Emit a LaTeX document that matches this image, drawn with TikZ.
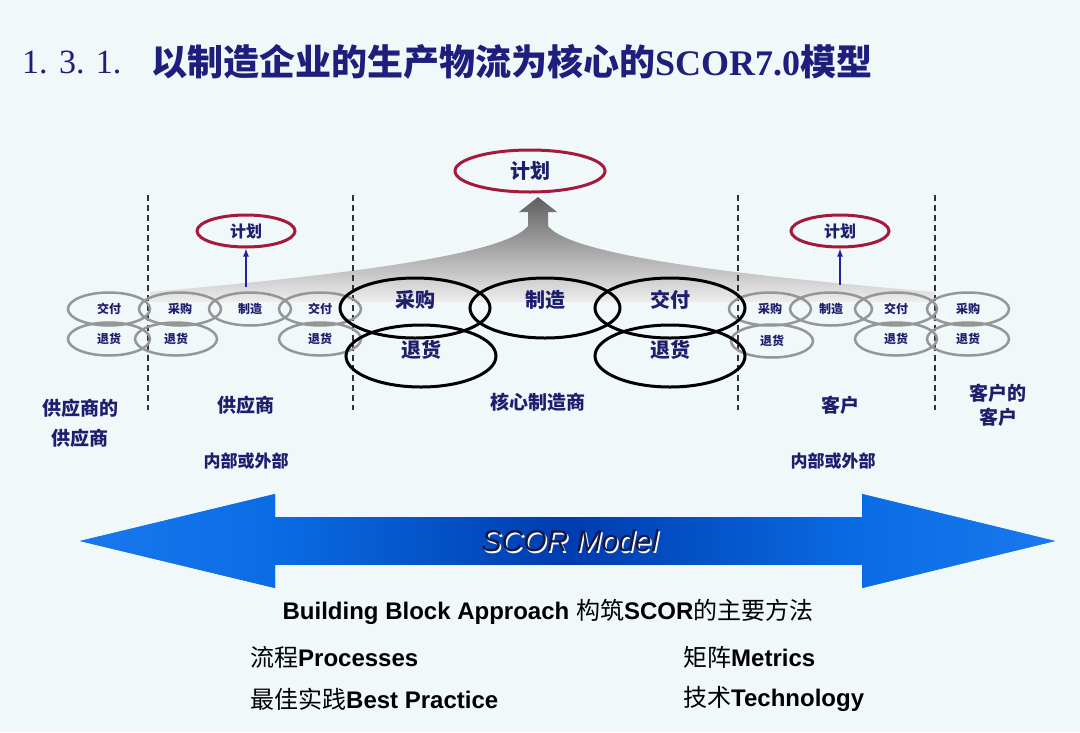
\documentclass[tikz,border=0pt]{standalone}
\usepackage{fontspec}
\setmainfont{Liberation Sans}
\newfontfamily\cjk{Noto Sans CJK SC}
\newfontfamily\serifTT{Liberation Serif}
\usetikzlibrary{shapes.geometric,arrows.meta}
\definecolor{bgc}{RGB}{241,248,249}
\definecolor{navy}{RGB}{30,30,110}
\definecolor{titlec}{RGB}{30,30,125}
\definecolor{plancol}{RGB}{165,25,60}
\definecolor{ellgray}{RGB}{150,150,150}
\definecolor{arrblue}{RGB}{10,108,228}
\definecolor{arrdark}{RGB}{0,60,175}
\definecolor{arrlight}{RGB}{25,120,238}
\definecolor{arrowline}{RGB}{35,35,160}
\definecolor{fantop}{RGB}{95,95,95}
\definecolor{fanbot}{RGB}{238,238,238}
\definecolor{scortext}{RGB}{20,25,70}
\begin{document}
\begin{tikzpicture}[x=1pt,y=-1pt,
  smallell/.style={ellipse, draw=ellgray, line width=2.5pt, minimum width=82pt, minimum height=33pt, inner sep=0pt, text=navy, font=\cjk\bfseries\fontsize{12}{14}\selectfont},
  bigell/.style={ellipse, draw=black, line width=3pt, minimum width=150pt, minimum height=60pt, inner sep=0pt},
  bigtxt/.style={text=navy, inner sep=0pt, font=\cjk\bfseries\fontsize{20}{24}\selectfont},
  planell/.style={ellipse, draw=plancol, line width=3pt, inner sep=0pt, text=navy},
  stagelbl/.style={text=navy, align=center, inner sep=0pt, font=\cjk\bfseries\fontsize{19}{30}\selectfont},
  sublbl/.style={text=navy, inner sep=0pt, font=\cjk\bfseries\fontsize{17}{20}\selectfont},
  divider/.style={draw=black!80, line width=1.2pt, dash pattern=on 6pt off 4pt},
  planarrow/.style={draw=arrowline, line width=1.3pt, -{Latex[length=8pt,width=6pt]}},
  bottxt/.style={anchor=west, inner sep=0pt, text=black, font=\bfseries\fontsize{24}{28}\selectfont}
]
% background
\fill[bgc] (0,0) rectangle (1080,732);
\useasboundingbox (0,0) rectangle (1080,732);

% title
\node[anchor=west, inner sep=0pt, text=titlec, font=\serifTT\fontsize{34}{40}\selectfont] (t1) at (22,62) {1. 3. 1.};
\node[anchor=west, inner sep=0pt, text=titlec, font=\fontsize{36}{40}\selectfont] (t2) at (151,62)
  {{\cjk\bfseries 以制造企业的生产物流为核心的}{\serifTT\bfseries SCOR7.0}{\cjk\bfseries 模型}};

% gray fan arrow towards the main plan
\shade[top color=fantop, bottom color=fanbot]
  (150,292) .. controls (330,276) and (505,256) .. (528,226)
  -- (528,212) -- (519,212) -- (538,197) -- (557,212) -- (548,212) -- (548,226)
  .. controls (571,256) and (746,276) .. (935,292)
  -- (935,302) -- (150,302) -- cycle;

% dividers
\draw[divider] (148,195) -- (148,410);
\draw[divider] (353,195) -- (353,410);
\draw[divider] (738,195) -- (738,410);
\draw[divider] (935,195) -- (935,410);

% plan ellipses
\node[planell, minimum width=150pt, minimum height=42pt, font=\cjk\bfseries\fontsize{20}{24}\selectfont] (p0) at (530,171) {计划};
\node[planell, minimum width=98pt, minimum height=32pt, font=\cjk\bfseries\fontsize{16}{20}\selectfont] (p1) at (246,231) {计划};
\node[planell, minimum width=98pt, minimum height=32pt, font=\cjk\bfseries\fontsize{16}{20}\selectfont] (p2) at (840,231) {计划};

% small ellipses, left
\node[smallell] (s1) at (109,309) {交付};
\node[smallell] (s2) at (180,309) {采购};
\node[smallell] (s3) at (250,309) {制造};
\node[smallell] (s4) at (320,309) {交付};
\node[smallell] (r1) at (109,339) {退货};
\node[smallell] (r2) at (176,339) {退货};
\node[smallell] (r3) at (320,339) {退货};
% small ellipses, right
\node[smallell] (s5) at (770,309) {采购};
\node[smallell] (s6) at (831,309) {制造};
\node[smallell] (s7) at (896,309) {交付};
\node[smallell] (s8) at (968,309) {采购};
\node[smallell] (r4) at (772,341) {退货};
\node[smallell] (r5) at (896,339) {退货};
\node[smallell] (r6) at (968,339) {退货};

% big ellipses
\node[bigell] (b1) at (415,308) {};
\node[bigell] (b2) at (545,308) {};
\node[bigell] (b3) at (670,308) {};
\node[bigell, minimum height=62pt] (b4) at (421,356) {};
\node[bigell, minimum height=62pt] (b5) at (670,356) {};
\node[bigtxt] (b1t) at ([yshift=8pt]b1.center) {采购};
\node[bigtxt] (b2t) at ([yshift=8pt]b2.center) {制造};
\node[bigtxt] (b3t) at ([yshift=8pt]b3.center) {交付};
\node[bigtxt] (b4t) at ([yshift=6pt]b4.center) {退货};
\node[bigtxt] (b5t) at ([yshift=6pt]b5.center) {退货};

% plan arrows
\coordinate (a1) at (246,287);
\coordinate (a2) at (840,285);
\draw[planarrow] (a1) -- (p1.south);
\draw[planarrow] (a2) -- (p2.south);

% stage labels
\node[stagelbl] (l1) at (80,423) {供应商的\\供应商};
\node[stagelbl] (l2) at (246,405) {供应商};
\node[stagelbl] (l3) at (538,402) {核心制造商};
\node[stagelbl] (l4) at (840,405) {客户};
\node[stagelbl, font=\cjk\bfseries\fontsize{19}{24}\selectfont] (l5) at (998,405) {客户的\\客户};
\node[sublbl] (l6) at (246,461) {内部或外部};
\node[sublbl] (l7) at (833,461) {内部或外部};

% big double arrow
\fill[arrblue] (80,541) -- (275,494) -- (275,517) -- (862,517) -- (862,494) -- (1055,541)
  -- (862,588) -- (862,564) -- (275,564) -- (275,588) -- cycle;
\shade[left color=arrlight, right color=arrblue] (80,541) -- (275,494) -- (275,588) -- cycle;
\shade[left color=arrblue, right color=arrlight] (862,494) -- (1055,541) -- (862,588) -- cycle;
\shade[left color=arrblue, right color=arrblue, middle color=arrdark] (275,517) rectangle (862,564);
\node[inner sep=0pt, text=white, font=\itshape\fontsize{30}{34}\selectfont] (scs) at (571.5,542.5) {SCOR Model};
\node[inner sep=0pt, text=scortext, font=\itshape\fontsize{30}{34}\selectfont] (sc) at (570,541) {SCOR Model};

% bottom text
\node[bottxt, anchor=center] (bt0) at (548,612) {Building Block Approach {\mdseries\cjk 构筑}SCOR{\mdseries\cjk 的主要方法}};
\node[bottxt] (bt1) at (250,657) {{\mdseries\cjk 流程}Processes};
\node[bottxt] (bt2) at (683,657) {{\mdseries\cjk 矩阵}Metrics};
\node[bottxt] (bt3) at (250,699) {{\mdseries\cjk 最佳实践}Best Practice};
\node[bottxt] (bt4) at (683,699) {{\mdseries\cjk 技术}Technology};
\end{tikzpicture}
\end{document}
